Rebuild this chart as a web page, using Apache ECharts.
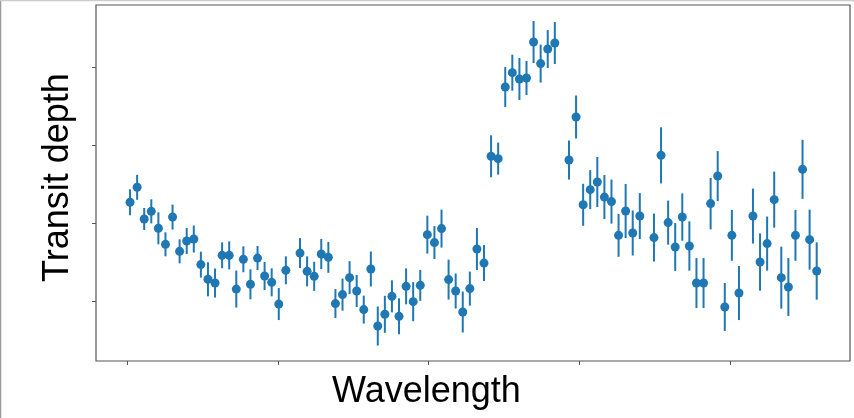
<!DOCTYPE html>
<html>
<head>
<meta charset="utf-8">
<script src="https://cdn.jsdelivr.net/npm/echarts@6/dist/echarts.min.js"></script>
<style>html,body{margin:0;padding:0;background:#fff}#chart{width:854px;height:418px}</style>
</head>
<body>
<div id="chart"></div>
<script>
// Wavelength (arbitrary units; unlabeled axis)
const wavelength = [
  1.018,1.065,1.112,1.159,1.206,1.253,1.300,1.347,1.394,1.441,1.488,1.535,1.582,1.629,1.676,1.723,1.770,1.817,1.864,1.911,1.958,2.005,2.052,
  2.146,2.193,2.240,2.287,2.334,2.381,2.428,2.475,2.522,2.569,2.616,2.662,2.709,2.756,2.803,2.850,2.897,2.944,2.991,3.038,3.085,3.132,3.179,3.226,3.273,3.320,3.367,3.414,3.461,3.508,3.555,3.602,3.649,3.696,3.743,3.790,3.837,
  3.931,3.978,4.025,4.072,4.119,4.166,4.213,4.260,4.307,4.354,4.401,
  4.495,4.542,4.589,4.636,4.683,4.730,4.777,4.824,4.871,4.918,4.965,5.012,5.059,
  5.152,5.199,5.246,5.293,5.340,5.387,5.434,5.481,5.528,5.575
];
// Transit depth (arbitrary units; unlabeled axis)
const depth = [
  2.268,2.460,2.054,2.152,1.935,1.730,2.079,1.640,1.772,1.798,1.470,1.282,1.234,1.589,1.589,1.157,1.538,1.218,1.554,1.324,1.243,0.965,1.397,
  1.618,1.384,1.320,1.606,1.563,0.971,1.086,1.303,1.132,0.894,1.414,0.684,0.834,1.064,0.808,1.192,0.996,1.205,1.854,1.752,1.931,1.278,1.132,0.863,1.163,1.670,1.490,2.857,2.827,3.744,3.928,3.846,3.859,4.320,4.044,4.230,4.307,
  2.809,3.360,2.236,2.430,2.528,2.335,2.277,1.845,2.156,1.875,2.092,
  1.816,2.869,2.008,1.695,2.079,1.708,1.234,1.234,2.251,2.604,0.927,1.845,1.106,
  2.092,1.503,1.739,2.302,1.303,1.183,1.845,2.690,1.790,1.388
];
// Error (half-length of error bar)
const depthErr = [
  0.166,0.160,0.141,0.154,0.205,0.154,0.160,0.154,0.166,0.173,0.166,0.218,0.186,0.166,0.179,0.237,0.166,0.192,0.154,0.179,0.179,0.205,0.179,
  0.192,0.192,0.186,0.192,0.198,0.186,0.205,0.211,0.205,0.179,0.224,0.250,0.237,0.205,0.230,0.230,0.250,0.198,0.243,0.211,0.243,0.256,0.224,0.262,0.218,0.269,0.230,0.269,0.205,0.256,0.230,0.269,0.218,0.269,0.243,0.243,0.269,
  0.250,0.275,0.269,0.250,0.320,0.282,0.282,0.275,0.346,0.288,0.294,
  0.307,0.359,0.282,0.307,0.303,0.316,0.320,0.320,0.329,0.320,0.307,0.326,0.346,
  0.352,0.367,0.346,0.359,0.397,0.371,0.326,0.378,0.384,0.367
];
const xTicks = [1, 2, 3, 4, 5];
const yTicks = [1, 2, 3, 4];
const xLabel = 'Wavelength';
const yLabel = 'Transit depth';

const color = '#1f77b4';
const points = wavelength.map((w, i) => [w, depth[i]]);
const bars = wavelength.map((w, i) => [w, depth[i] - depthErr[i], depth[i] + depthErr[i]]);

const chart = echarts.init(document.getElementById('chart'), null, {renderer: 'canvas'});
const axisCommon = {
  axisLine: {show: false},
  axisLabel: {show: false},
  splitLine: {show: false}
};
chart.setOption({
  animation: false,
  backgroundColor: '#fff',
  grid: {left: 96, right: 4, top: 5, bottom: 57, show: true, borderColor: '#555', borderWidth: 1.2, backgroundColor: 'transparent'},
  xAxis: Object.assign({
    type: 'value', min: 0.792, max: 5.796,
    axisTick: {show: true, inside: false, length: 4, lineStyle: {color: '#555', width: 1}, customValues: xTicks}
  }, axisCommon),
  yAxis: Object.assign({
    type: 'value', min: 0.236, max: 4.794,
    axisTick: {show: true, inside: false, length: 4, lineStyle: {color: '#555', width: 1}, customValues: yTicks}
  }, axisCommon),
  graphic: [
    {type: 'line', shape: {x1: 0.5, y1: 0, x2: 0.5, y2: 418}, style: {stroke: '#999', lineWidth: 1.5}},
    {type: 'line', shape: {x1: 0, y1: 0.5, x2: 854, y2: 0.5}, style: {stroke: '#ccc', lineWidth: 1.5}},
    {type: 'text', x: 426.5, y: 392.5, style: {text: xLabel, font: '36px "Liberation Sans", Arial, sans-serif', fill: '#000', textAlign: 'center', textVerticalAlign: 'middle'}},
    {type: 'text', x: 58, y: 177.5, rotation: Math.PI / 2, style: {text: yLabel, font: '36px "Liberation Sans", Arial, sans-serif', fill: '#000', textAlign: 'center', textVerticalAlign: 'middle'}}
  ],
  series: [
    {
      type: 'custom',
      data: bars,
      encode: {x: 0, y: [1, 2]},
      renderItem: function (params, api) {
        const lo = api.coord([api.value(0), api.value(1)]);
        const hi = api.coord([api.value(0), api.value(2)]);
        return {
          type: 'line',
          shape: {x1: lo[0], y1: lo[1], x2: hi[0], y2: hi[1]},
          style: {stroke: color, lineWidth: 2}
        };
      },
      z: 2
    },
    {
      type: 'scatter',
      data: points,
      symbol: 'circle',
      symbolSize: 9,
      itemStyle: {color: color, opacity: 1},
      z: 3
    }
  ]
});
</script>
</body>
</html>
